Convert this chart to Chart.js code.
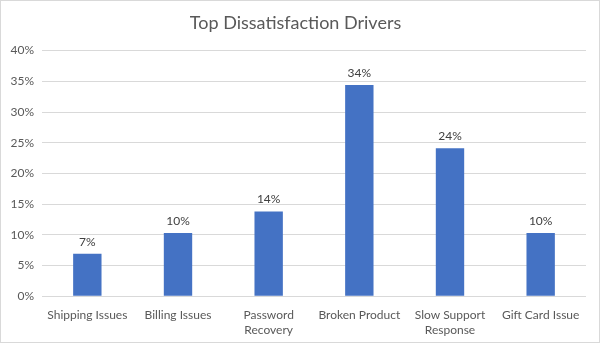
<!DOCTYPE html>
<html>
<head>
<meta charset="utf-8">
<script src="https://cdn.jsdelivr.net/npm/chart.js@4"></script>
<style>
  html, body { margin: 0; padding: 0; background: #fff; }
  #wrap { position: relative; width: 598px; height: 341px; border: 1px solid #d9d9d9; }
</style>
</head>
<body>
<div id="wrap"><canvas id="chart"></canvas></div>
<script>
const categories = ['Shipping Issues', 'Billing Issues', ['Password', 'Recovery'], 'Broken Product', ['Slow Support', 'Response'], 'Gift Card Issue'];
const shares = [0.069, 0.103, 0.138, 0.344, 0.241, 0.103];
const yTicks = [0, 0.05, 0.10, 0.15, 0.20, 0.25, 0.30, 0.35, 0.40];

const fontFamily = 'Lato, "Open Sans", sans-serif';

// data labels above each bar
const barLabels = {
    id: 'barLabels',
    afterDatasetsDraw(chart) {
        let ctx = chart.ctx;
        let meta = chart.getDatasetMeta(0);
        ctx.save();
        ctx.font = '12px ' + fontFamily;
        ctx.fillStyle = '#404040';
        ctx.textAlign = 'center';
        ctx.textBaseline = 'bottom';
        meta.data.forEach((bar, i) => {
            ctx.fillText(Math.round(shares[i] * 100) + '%', bar.x, bar.y - 6);
        });
        ctx.restore();
    }
};

let ctx = document.getElementById('chart');
new Chart(ctx, {
    type: 'bar',
    data: {
        labels: categories,
        datasets: [{
            data: shares,
            backgroundColor: '#4472C4',
            borderWidth: 0,
            categoryPercentage: 1,
            barPercentage: 0.313
        }]
    },
    options: {
        responsive: true,
        maintainAspectRatio: false,
        animation: false,
        layout: { padding: { left: 4, right: 13, top: 0, bottom: 1 } },
        plugins: {
            legend: { display: false },
            tooltip: { enabled: false },
            title: {
                display: true,
                text: 'Top Dissatisfaction Drivers',
                color: '#595959',
                font: { family: fontFamily, size: 18, weight: 'normal' },
                padding: { top: 11, bottom: 17 }
            }
        },
        scales: {
            x: {
                grid: { display: false },
                border: { display: false },
                ticks: {
                    color: '#595959',
                    font: { family: fontFamily, size: 12 },
                    maxRotation: 0,
                    autoSkip: false,
                    padding: 4
                }
            },
            y: {
                min: 0,
                max: 0.4,
                afterFit(scale) { scale.width = 37; },
                afterBuildTicks(scale) { scale.ticks = yTicks.map(v => ({ value: v })); },
                grid: { color: '#d9d9d9', drawTicks: false },
                border: { display: false },
                ticks: {
                    color: '#595959',
                    font: { family: fontFamily, size: 12 },
                    padding: 8,
                    callback: v => Math.round(v * 100) + '%'
                }
            }
        }
    },
    plugins: [barLabels]
});
</script>
</body>
</html>
